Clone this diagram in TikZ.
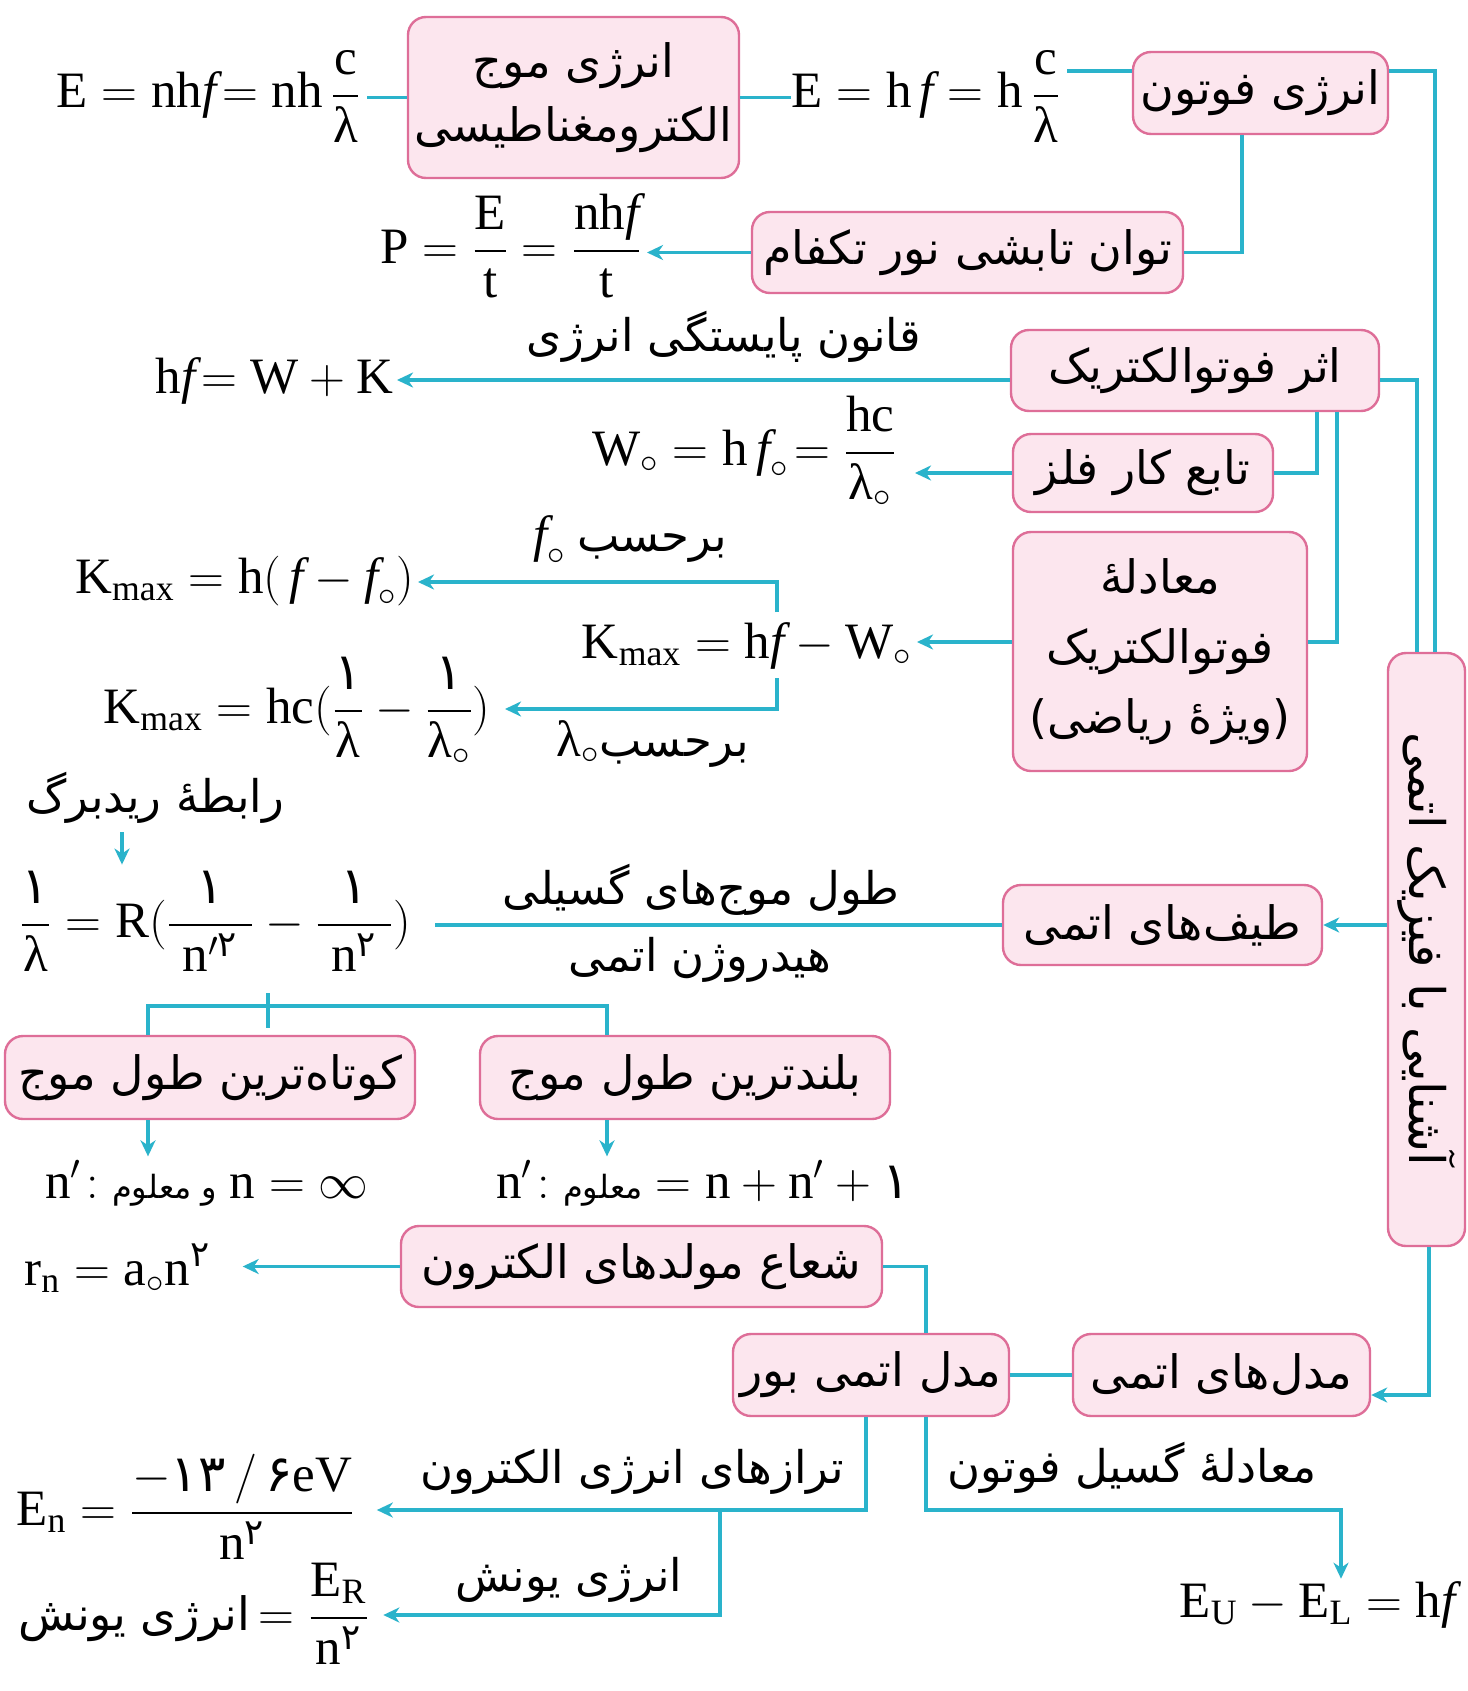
\documentclass[tikz,border=0pt]{standalone}
\usepackage{amsmath}
\usepackage{graphicx}
\usepackage{fontspec}
\setmainfont{Liberation Serif}
\newfontfamily\fa[Script=Arabic]{DejaVu Sans}
\TeXXeTstate=1
\usetikzlibrary{arrows.meta}
\definecolor{lin}{HTML}{2AB3CB}
\definecolor{pbd}{HTML}{DE6E98}
\definecolor{pfl}{HTML}{FCE6EE}
\newcommand\fat[1]{{\fa\beginR #1\endR}}
\newcommand\pd[1]{\text{\fa #1}}
\newcommand\zr{\circ}
\newcommand\lam{\text{λ}}
\tikzset{
 pbox/.style={draw=pbd, fill=pfl, line width=1.2pt, rounded corners=9pt, inner sep=0pt, align=center, font=\fontsize{23}{32}\selectfont},
 lbl/.style={inner sep=0pt, font=\fontsize{22.5}{28}\selectfont},
 fml/.style={inner sep=0pt, font=\fontsize{25.5}{30}\selectfont},
 conn/.style={draw=lin, line width=1.6pt},
 arr/.style={conn, -{Stealth[length=8pt,width=7.5pt,inset=2.5pt]}},
}
\begin{document}
\begin{tikzpicture}[x=0.5pt,y=-0.5pt]
\fill[white] (0,0) rectangle (1467,1691);
\useasboundingbox (0,0) rectangle (1467,1691);

% boxes
\node[pbox, minimum width=165.5pt, minimum height=80.5pt] (em) at (573.5,97.5) {\fat{انرژی موج}\\\fat{الکترومغناطیسی}};
\node[pbox, minimum width=127.5pt, minimum height=41pt] (photon) at (1260.5,93) {\fat{انرژی فوتون}};
\node[pbox, minimum width=215.5pt, minimum height=40.5pt] (power) at (967.5,252.5) {\fat{توان تابشی نور تکفام}};
\node[pbox, minimum width=184pt, minimum height=40.5pt] (pe) at (1195,370.5) {\fat{اثر فوتوالکتریک}};
\node[pbox, minimum width=130pt, minimum height=39pt] (wf) at (1143,473) {\fat{تابع کار فلز}};
\node[pbox, minimum width=147pt, minimum height=119.5pt, font=\fontsize{23}{35}\selectfont] (peq) at (1160,651.5) {\fat{معادلهٔ}\\\fat{فوتوالکتریک}\\\fat{(ویژهٔ ریاضی)}};
\node[pbox, minimum width=159.5pt, minimum height=40pt] (spec) at (1162.5,925) {\fat{طیف‌های اتمی}};
\node[pbox, minimum width=38.5pt, minimum height=296.5pt, font=\fontsize{24.5}{30}\selectfont] (vert) at (1426.5,949.5) {\rotatebox{-90}{\fat{آشنایی با فیزیک اتمی}}};
\node[pbox, minimum width=205pt, minimum height=41.5pt] (short) at (210,1077.5) {\fat{کوتاه‌ترین طول موج}};
\node[pbox, minimum width=205pt, minimum height=41.5pt] (long) at (685,1077.5) {\fat{بلندترین طول موج}};
\node[pbox, minimum width=240.5pt, minimum height=40.5pt] (rad) at (641.5,1266.5) {\fat{شعاع مولدهای الکترون}};
\node[pbox, minimum width=138pt, minimum height=41pt] (bohr) at (871,1375) {\fat{مدل اتمی بور}};
\node[pbox, minimum width=148.5pt, minimum height=41pt] (models) at (1221.5,1375) {\fat{مدل‌های اتمی}};

% formulas
\node[fml, anchor=base east] (fA) at (361,108) {$\text{E} = \text{nh}\textit{f}\!=\text{nh}\,\dfrac{\text{c}}{\lam}$};
\node[fml, anchor=base west] (fB) at (791,108) {$\text{E} = \text{h}\,\textit{f} = \text{h}\,\dfrac{\text{c}}{\lam}$};
\node[fml, anchor=base east] (fP) at (642,263) {$\text{P} = \dfrac{\text{E}}{\text{t}} = \dfrac{\text{nh}\textit{f}}{\text{t}}$};
\node[fml, anchor=base east] (fHF) at (394,393) {$\text{h}\textit{f}\!= \text{W} + \text{K}$};
\node[fml, anchor=base east] (fW) at (897,465) {$\text{W}_{\zr} = \text{h}\,\textit{f}_{\zr}\!= \dfrac{\text{hc}}{\lam_{\zr}}$};
\node[fml, anchor=base east] (fK1) at (912,658) {$\text{K}_{\text{max}} = \text{h}\textit{f} - \text{W}_{\zr}$};
\node[fml, anchor=base east] (fK2) at (415,593) {$\text{K}_{\text{max}} = \text{h}(\,\textit{f} - \textit{f}_{\zr})$};
\node[fml, anchor=base east] (fK3) at (491,723) {$\text{K}_{\text{max}} = \text{hc}(\dfrac{\pd{۱}}{\lam} - \dfrac{\pd{۱}}{\lam_{\zr}})$};
\node[fml, anchor=base west] (fR) at (19,937) {$\dfrac{\pd{۱}}{\lam} = \text{R}(\dfrac{\pd{۱}}{\;\text{n}'^{\pd{۲}}\;} - \dfrac{\pd{۱}}{\;\text{n}^{\pd{۲}}\;})$};
\node[fml, anchor=base west] (fN1) at (45,1198) {$\text{n}'\!:$ {\fa\fontsize{16}{18}\selectfont\beginR و معلوم\endR} $\text{n} = \infty$};
\node[fml, anchor=base west] (fN2) at (496,1198) {$\text{n}'\!:$ {\fa\fontsize{16}{18}\selectfont\beginR معلوم\endR} $= \text{n} + \text{n}' + \pd{۱}$};
\node[fml, anchor=base west] (fRn) at (24,1285) {$\text{r}_{\text{n}} = \text{a}_{\zr}\text{n}^{\pd{۲}}$};
\node[fml, anchor=base west] (fEn) at (16,1525) {$\text{E}_{\text{n}} = \dfrac{-\pd{۱۳}\,/\,\pd{۶}\text{eV}}{\text{n}^{\pd{۲}}}$};
\node[fml, anchor=base west] (fEi) at (18,1630) {{\fa\fontsize{23}{27}\selectfont\beginR انرژی یونش\endR}$\,= \dfrac{\text{E}_{\text{R}}}{\text{n}^{\pd{۲}}}$};
\node[fml, anchor=base east] (fEU) at (1456,1617) {$\text{E}_{\text{U}} - \text{E}_{\text{L}} = \text{h}\textit{f}$};

% labels
\node[lbl] (lcons) at (724,337) {\fat{قانون پایستگی انرژی}};
\node[lbl] (lf0) at (630,540) {{\fontsize{25.5}{30}\selectfont$\textit{f}_{\zr}$}\ \fat{برحسب}};
\node[lbl] (llam) at (653,744) {{\fontsize{25.5}{30}\selectfont$\lam_{\zr}$}\fat{برحسب}};
\node[lbl] (lryd) at (155,798) {\fat{رابطهٔ ریدبرگ}};
\node[lbl] (lwave) at (701,890) {\fat{طول موج‌های گسیلی}};
\node[lbl] (lhyd) at (700,960) {\fat{هیدروژن اتمی}};
\node[lbl] (llev) at (632,1472) {\fat{ترازهای انرژی الکترون}};
\node[lbl] (lion) at (569,1580) {\fat{انرژی یونش}};
\node[lbl] (lemit) at (1132,1468) {\fat{معادلهٔ گسیل فوتون}};

% connectors
\draw[conn, shorten >=3pt] (em.west) -- (em.west -| fA.east);
\draw[conn] (em.east) -- (em.east -| fB.west);
\coordinate (ph1) at ([yshift=11pt]photon.west);
\draw[conn, shorten >=3pt] (ph1) -- (ph1 -| fB.east);
\coordinate (ph2) at ([yshift=11pt]photon.east);
\coordinate (v1) at ([xshift=4.25pt]vert.north);
\draw[conn] (ph2) -| (v1);
\coordinate (pe1) at ([yshift=-4.75pt]pe.east);
\coordinate (v2) at ([xshift=-4.75pt]vert.north);
\draw[conn] (pe1) -| (v2);
\coordinate (ph3) at ([xshift=-9.25pt]photon.south);
\draw[conn] (ph3) |- (power.east);
\draw[arr, shorten >=2.5pt] (power.west) -- (power.west -| fP.east);
\coordinate (pe2) at ([yshift=-4.75pt]pe.west);
\draw[arr, shorten >=1.5pt] (pe2) -- (pe2 -| fHF.east);
\coordinate (pe3) at ([xshift=61pt]pe.south);
\draw[conn] (pe3) |- (wf.east);
\coordinate (pe4) at ([xshift=71pt]pe.south);
\coordinate (pq1) at ([yshift=4.75pt]peq.east);
\draw[conn] (pe4) |- (pq1);
\draw[arr, shorten >=9pt] (wf.west) -- (wf.west -| fW.east);
\coordinate (pq2) at ([yshift=4.75pt]peq.west);
\draw[arr, shorten >=2.5pt] (pq2) -- (pq2 -| fK1.east);
\coordinate (bt) at (777,582);
\coordinate (bb) at (777,709);
\coordinate (bm1) at (777,612);
\coordinate (bm2) at (777,678);
\draw[arr, shorten >=1.5pt] (bm1) -- (bt) -- (bt -| fK2.east);
\draw[arr, shorten >=7pt] (bm2) -- (bb) -- (bb -| fK3.east);
\draw[conn, shorten >=12pt] (spec.west) -- (spec.west -| fR.east);
\draw[arr] (vert.west |- spec.east) -- (spec.east);
\coordinate (ryx) at (122,850);
\draw[arr, shorten <=4pt, shorten >=3pt] (lryd.south -| ryx) -- (ryx |- fR.north);
\coordinate (sL) at ([xshift=-31pt]short.north);
\coordinate (lL) at ([xshift=-39pt]long.north);
\coordinate (bh) at (0,1006);
\draw[conn] (sL) -- (sL |- bh) -- (lL |- bh) -- (lL);
\coordinate (t1) at (268,993);
\coordinate (t2) at (268,1028);
\draw[conn] (t1) -- (t2);
\coordinate (sA) at ([xshift=-31pt]short.south);
\draw[arr, shorten >=2pt] (sA) -- (sA |- fN1.north);
\coordinate (lA) at ([xshift=-39pt]long.south);
\draw[arr, shorten >=2pt] (lA) -- (lA |- fN2.north);
\coordinate (vb) at ([xshift=1.25pt]vert.south);
\coordinate (md) at ([yshift=-10pt]models.east);
\draw[arr] (vb) |- (md);
\draw[conn] (bohr.east) -- (models.west);
\coordinate (bn) at ([xshift=27.5pt]bohr.north);
\draw[conn] (bn) |- (rad.east);
\draw[arr, shorten >=16pt] (rad.west) -- (rad.west -| fRn.east);
\coordinate (bs1) at ([xshift=-2.5pt]bohr.south);
\coordinate (lev) at (0,1510);
\draw[arr, shorten >=11pt] (bs1) -- (bs1 |- lev) -- (lev -| fEn.east);
\coordinate (j1) at (720,1510);
\coordinate (j2) at (720,1615);
\draw[arr, shorten >=7pt] (j1) -- (j2) -- (j2 -| fEi.east);
\coordinate (bs2) at ([xshift=27.5pt]bohr.south);
\coordinate (em1) at (1341,1510);
\draw[arr, shorten >=1pt] (bs2) |- (em1) -- (em1 |- fEU.north);
\end{tikzpicture}
\end{document}
